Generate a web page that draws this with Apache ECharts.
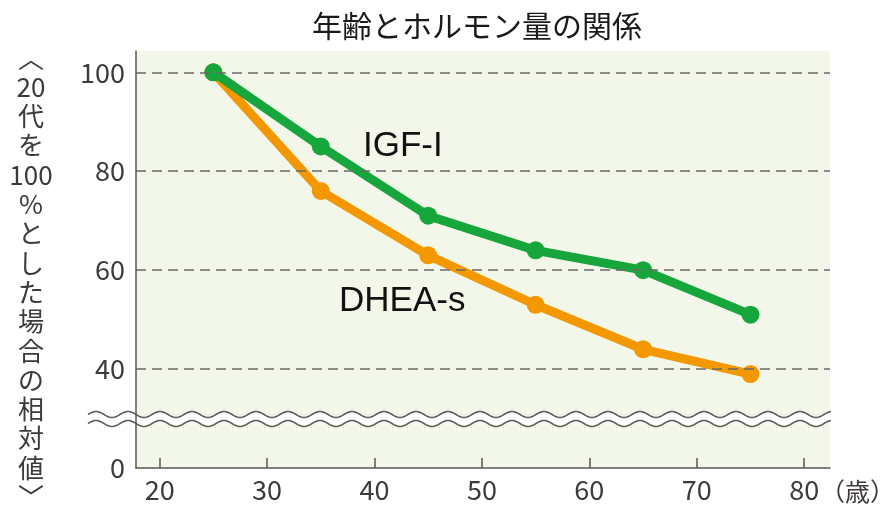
<!DOCTYPE html>
<html><head><meta charset="utf-8">
<script src="https://cdn.jsdelivr.net/npm/echarts@6/dist/echarts.min.js"></script>
<style>html,body{margin:0;padding:0;background:#fff}#c{width:896px;height:506px}</style>
</head><body><div id="c"></div>
<script>
const ages = [25, 35, 45, 55, 65, 75];
const igf = [100, 85, 71, 64, 60, 51];
const dhea = [100, 76, 63, 53, 44, 39];
const xTicks = [20, 30, 40, 50, 60, 70, 80];
const yTicks = [20, 40, 60, 80, 100];
const yTickLabels = ['0', '40', '60', '80', '100'];
const gridLines = [40, 60, 80, 100];
const titleText = '年齢とホルモン量の関係';
const yNameLines = ['︿','20','代','を','100','%','と','し','た','場','合','の','相','対','値','﹀'];

const GREEN = '#17a63b', ORANGE = '#f39800';
const chart = echarts.init(document.getElementById('c'), null, {renderer: 'canvas'});

function wave(y0, x0, x1, amp, period) {
  const pts = [];
  for (let x = x0; x <= x1; x += 1) pts.push([x, y0 - amp * Math.sin((x - x0) / period * 2 * Math.PI)]);
  return pts;
}
const wx0 = 88, wx1 = 831;
const upper = wave(414.5, wx0, wx1, 3, 32);
const lower = wave(423.5, wx0, wx1, 3, 32);
const band = upper.concat(lower.slice().reverse());

chart.setOption({
  animation: false,
  title: {
    text: titleText, left: 472, top: 6, textAlign: 'center',
    textStyle: {fontFamily: 'Noto Sans CJK JP', fontSize: 30, fontWeight: 'normal', color: '#1a1a1a'}
  },
  grid: {left: 136, right: 66, top: 51, bottom: 38, show: true, backgroundColor: '#f3f7e9', borderWidth: 0},
  xAxis: {
    type: 'value', min: 17.8, max: 82.4, z: 5,
    axisLine: {show: true, lineStyle: {color: '#595757', width: 1.5}},
    axisTick: {show: true, inside: true, length: 10, customValues: xTicks, lineStyle: {color: '#595757', width: 1.5}},
    axisLabel: {customValues: xTicks, margin: 8, color: '#3e3a39', fontFamily: 'Noto Sans CJK JP', fontSize: 27},
    splitLine: {show: false}
  },
  yAxis: {
    type: 'value', min: 20, max: 104.3, z: 5,
    axisLine: {show: true, lineStyle: {color: '#595757', width: 1.5}},
    axisTick: {show: false, customValues: yTicks},
    axisLabel: {customValues: yTicks, margin: 11, color: '#3e3a39', fontFamily: 'Noto Sans CJK JP', fontSize: 27,
      formatter: v => yTickLabels[yTicks.indexOf(v)]},
    splitLine: {show: false}
  },
  series: [
    {type: 'line', data: [], silent: true, z: 1,
      markLine: {silent: true, symbol: 'none', label: {show: false},
        lineStyle: {type: [10, 6], color: '#6a6a6a', width: 1.5},
        data: gridLines.map(v => ({yAxis: v}))}},
    {type: 'line', name: 'DHEA-s', data: ages.map((a, i) => [a, dhea[i]]), z: 3,
      symbol: 'circle', symbolSize: 18, lineStyle: {color: ORANGE, width: 9}, itemStyle: {color: ORANGE}},
    {type: 'line', name: 'IGF-I', data: ages.map((a, i) => [a, igf[i]]), z: 4,
      symbol: 'circle', symbolSize: 18, lineStyle: {color: GREEN, width: 9}, itemStyle: {color: GREEN}}
  ],
  graphic: [
    {type: 'polygon', z: 2, shape: {points: band}, style: {fill: '#ffffff'}},
    {type: 'polyline', z: 2, shape: {points: upper}, style: {stroke: '#5f5757', lineWidth: 1.6, fill: null}},
    {type: 'polyline', z: 2, shape: {points: lower}, style: {stroke: '#5f5757', lineWidth: 1.6, fill: null}},
    {type: 'text', z: 10, x: 363, y: 146, style: {text: 'IGF-I', fontFamily: 'Liberation Sans', fontSize: 35, fill: '#111', verticalAlign: 'middle'}},
    {type: 'text', z: 10, x: 339, y: 301, style: {text: 'DHEA-s', fontFamily: 'Liberation Sans', fontSize: 35, fill: '#111', verticalAlign: 'middle'}},
    {type: 'text', z: 10, x: 820, y: 491, style: {text: '（歳）', fontFamily: 'Noto Sans CJK JP', fontSize: 25, fill: '#3e3a39', verticalAlign: 'middle'}},
    {type: 'text', z: 10, x: 31, y: 43, style: {text: yNameLines.join('\n'), fontFamily: 'Noto Sans CJK JP', fontSize: 26, lineHeight: 29.3, fill: '#3e3a39', align: 'center', verticalAlign: 'top'}}
  ]
});
</script></body></html>
